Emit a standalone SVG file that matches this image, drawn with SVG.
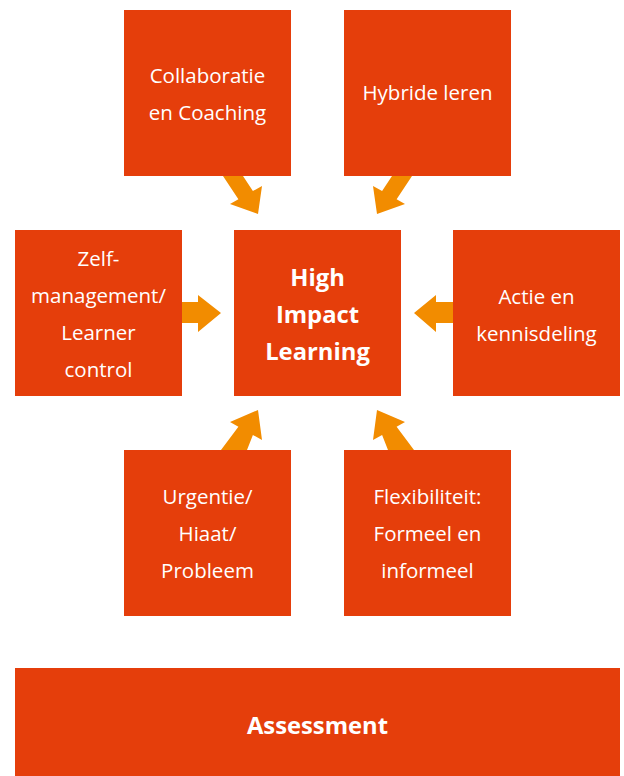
<svg xmlns="http://www.w3.org/2000/svg" width="624" height="776" viewBox="0 0 624 776">
<style>
.box{fill:#E53E0B}
.arr{fill:#F28C00}
text{font-family:"Open Sans","Noto Sans","Liberation Sans",sans-serif;fill:#fff;text-anchor:middle;font-size:20.5px}
.b{font-weight:bold;font-size:23.8px}
</style>
<rect width="624" height="776" fill="#fff"/>
<g id="connectors">
<polygon class="arr" points="223,176 243,176 252.9,191.1 262,186 258,214 230,204 238.4,199.3"/>
<polygon class="arr" points="412,176 392,176 382.1,191.1 373,186 377,214 405,204 396.6,199.3"/>
<polygon class="arr" points="221,450 247,450 252.9,434.9 262,440 258,410 230,422 238.4,426.7"/>
<polygon class="arr" points="414,450 388,450 382.1,434.9 373,440 377,410 405,422 396.6,426.7"/>
<polygon class="arr" points="182,302 198,302 198,295 221,313 198,332 198,323 182,323"/>
<polygon class="arr" points="453,302 436,302 436,295 414,313 436,332 436,323 453,323"/>
</g>
<g id="collaboratie"><rect class="box" x="124" y="10" width="167" height="166"/><text x="207.5" y="83">Collaboratie</text><text x="207.5" y="120">en Coaching</text></g>
<g id="hybride"><rect class="box" x="344" y="10" width="167" height="166"/><text x="427.5" y="100">Hybride leren</text></g>
<g id="zelfmanagement"><rect class="box" x="15" y="230" width="167" height="166"/><text x="98.5" y="266">Zelf-</text><text x="98.5" y="303">management/</text><text x="98.5" y="340">Learner</text><text x="98.5" y="377">control</text></g>
<g id="hil"><rect class="box" x="234" y="230" width="167" height="166"/><text class="b" x="317.5" y="286">High</text><text class="b" x="317.5" y="323">Impact</text><text class="b" x="317.5" y="360">Learning</text></g>
<g id="actie"><rect class="box" x="453" y="230" width="167" height="166"/><text x="536.5" y="304">Actie en</text><text x="536.5" y="341">kennisdeling</text></g>
<g id="urgentie"><rect class="box" x="124" y="450" width="167" height="166"/><text x="207.5" y="504">Urgentie/</text><text x="207.5" y="541">Hiaat/</text><text x="207.5" y="578">Probleem</text></g>
<g id="flexibiliteit"><rect class="box" x="344" y="450" width="167" height="166"/><text x="427.5" y="504">Flexibiliteit:</text><text x="427.5" y="541">Formeel en</text><text x="427.5" y="578">informeel</text></g>
<g id="assessment"><rect class="box" x="15" y="668" width="605" height="108"/><text class="b" x="317.5" y="734">Assessment</text></g>
</svg>
